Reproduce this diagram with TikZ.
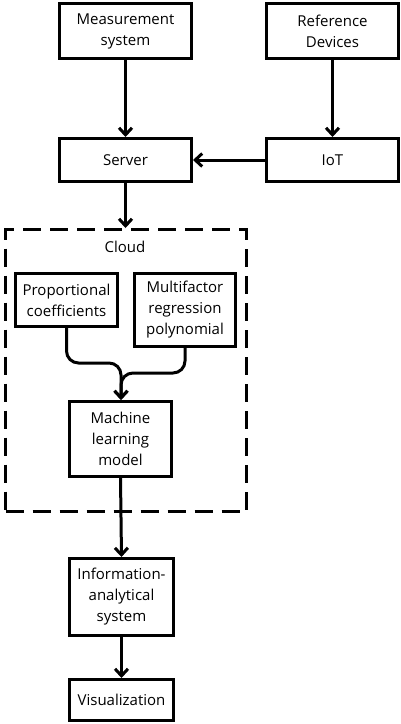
\documentclass[tikz,border=0pt]{standalone}
\usepackage{fontspec}
\setmainfont{Open Sans}
\usetikzlibrary{arrows.meta}
\begin{document}
\begin{tikzpicture}[x=1pt,y=-1pt,
  box/.style={draw,line width=3pt,align=center,inner sep=0pt,
    font=\fontsize{15}{21}\selectfont},
  arr/.style={line width=3pt,-{Straight Barb[length=7pt,width=13pt,line width=3pt]}},
  cloudframe/.style={draw,line width=3pt,dash pattern=on 18pt off 9pt}]
\useasboundingbox (0,0) rectangle (401,724);
\node[box,minimum width=132pt,minimum height=55pt] (meas) at (125.5,31) {Measurement\\system};
\node[box,minimum width=132pt,minimum height=55pt] (ref) at (332.5,31) {Reference\\Devices};
\node[box,minimum width=132pt,minimum height=43pt] (server) at (125.5,160) {Server};
\node[box,minimum width=132pt,minimum height=43pt] (iot) at (332.5,160) {IoT};
\node[cloudframe,minimum width=241pt,minimum height=282pt,inner sep=0pt] (cloud) at (126,370.5) {};
\node[font=\fontsize{15}{21}\selectfont] (cloudlbl) at (125,247) {Cloud};
\node[box,minimum width=102pt,minimum height=53pt] (prop) at (66.5,300) {Proportional\\coefficients};
\node[box,minimum width=101pt,minimum height=73pt] (multi) at (185,310) {Multifactor\\regression\\polynomial};
\node[box,minimum width=102pt,minimum height=75pt] (ml) at (120.5,439) {Machine\\learning\\model};
\node[box,minimum width=104pt,minimum height=77pt] (info) at (121.5,597) {Information-\\analytical\\system};
\node[box,minimum width=104pt,minimum height=41pt] (vis) at (121.5,700) {Visualization};
\draw[arr] (meas.south) -- (server.north);
\draw[arr] (ref.south) -- (iot.north);
\draw[arr] (iot.west) -- (server.east);
\draw[arr] (server.south) -- (server.south |- cloud.north);
\coordinate (mlin) at ([xshift=0.5pt]ml.north);
\draw[arr,rounded corners=12pt] (prop.south) -- (prop.south |- 0,363) -- (121,363) -- (mlin);
\draw[arr,rounded corners=12pt] (multi.south) -- (multi.south |- 0,373) -- (121,373) -- (mlin);
\draw[arr] (ml.south) -- (info.north);
\draw[arr] (info.south) -- (vis.north);
\end{tikzpicture}
\end{document}
